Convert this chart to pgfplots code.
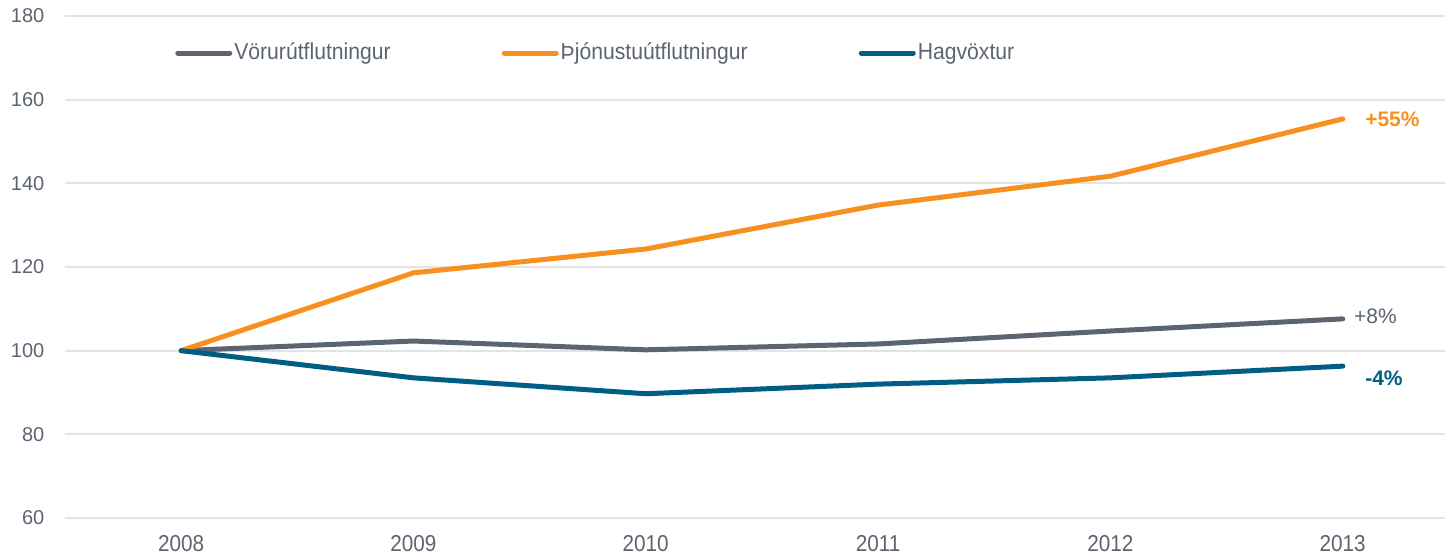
\documentclass[border=0pt]{standalone}
\usepackage{pgfplots}
\pgfplotsset{compat=1.18}
\usepackage{fontspec}
\setmainfont{Liberation Sans}
\definecolor{cgray}{HTML}{5B6470}
\definecolor{corange}{HTML}{F7901E}
\definecolor{cblue}{HTML}{005E85}
\definecolor{cgrid}{HTML}{E4E4E4}
\definecolor{ctext}{HTML}{5B6470}
\begin{document}
\begin{tikzpicture}
\begin{axis}[
  scale only axis,
  width=690pt, height=251pt,
  xmin=2007.5, xmax=2013.44,
  ymin=60, ymax=180,
  xtick={2008,...,2013},
  ytick={60,80,...,180},
  xticklabel={\scalebox{0.9}[1]{\pgfmathprintnumber[1000 sep={}]{\tick}}},
  yticklabel={\pgfmathprintnumber{\tick}},
  /pgf/number format/assume math mode=true,
  ymajorgrids,
  grid style={cgrid, line width=1pt},
  axis line style={draw=none},
  major tick length=0pt,
  xticklabel style={font=\fontsize{11.5}{13}\selectfont, text=ctext, anchor=north, yshift=-5.1pt},
  yticklabel style={font=\fontsize{10}{12}\selectfont, text=ctext, anchor=east, xshift=-6.8pt},
  clip=false,
  legend style={draw=none, fill=none, at={(axis cs:2007.973,171.15)}, anchor=west,
    inner sep=0pt, font=\fontsize{11.5}{13}\selectfont, text=ctext,
    /tikz/every even column/.append style={column sep=54.5pt},
    nodes={inner sep=1pt}},
  legend columns=3,
  legend image code/.code={\draw[#1, line width=2.5pt, line cap=round] (0pt,0pt) -- (26pt,0pt);},
  every axis plot/.append style={line width=2.5pt, line cap=round, line join=round},
]
\addplot[cgray] coordinates {(2008,100) (2009,102.3) (2010,100.2) (2011,101.6) (2012,104.7) (2013,107.6)};
\addlegendentry{\scalebox{0.92}[1]{Vörurútflutningur}}
\addplot[corange] coordinates {(2008,100) (2009,118.6) (2010,124.3) (2011,134.8) (2012,141.7) (2013,155.4)};
\addlegendentry{\scalebox{0.92}[1]{Þjónustuútflutningur}}
\addplot[cblue] coordinates {(2008,100) (2009,93.5) (2010,89.7) (2011,92.0) (2012,93.5) (2013,96.3)};
\addlegendentry{\scalebox{0.92}[1]{Hagvöxtur}}
\node[anchor=west, inner sep=0pt, text=corange, font=\fontsize{10.5}{12}\selectfont\bfseries] at (axis cs:2013.095,155.4) {+55\%};
\node[anchor=west, inner sep=0pt, text=cgray, font=\fontsize{10.5}{12}\selectfont] at (axis cs:2013.047,108.3) {+8\%};
\node[anchor=west, inner sep=0pt, text=cblue, font=\fontsize{10.5}{12}\selectfont\bfseries] at (axis cs:2013.095,93.5) {-4\%};
\coordinate (o) at (rel axis cs:0,0);
\end{axis}
\pgfresetboundingbox
\path ([shift={(-32.5pt,-18.5pt)}]o) rectangle ++(722.5pt,277.5pt);
\end{tikzpicture}
\end{document}
